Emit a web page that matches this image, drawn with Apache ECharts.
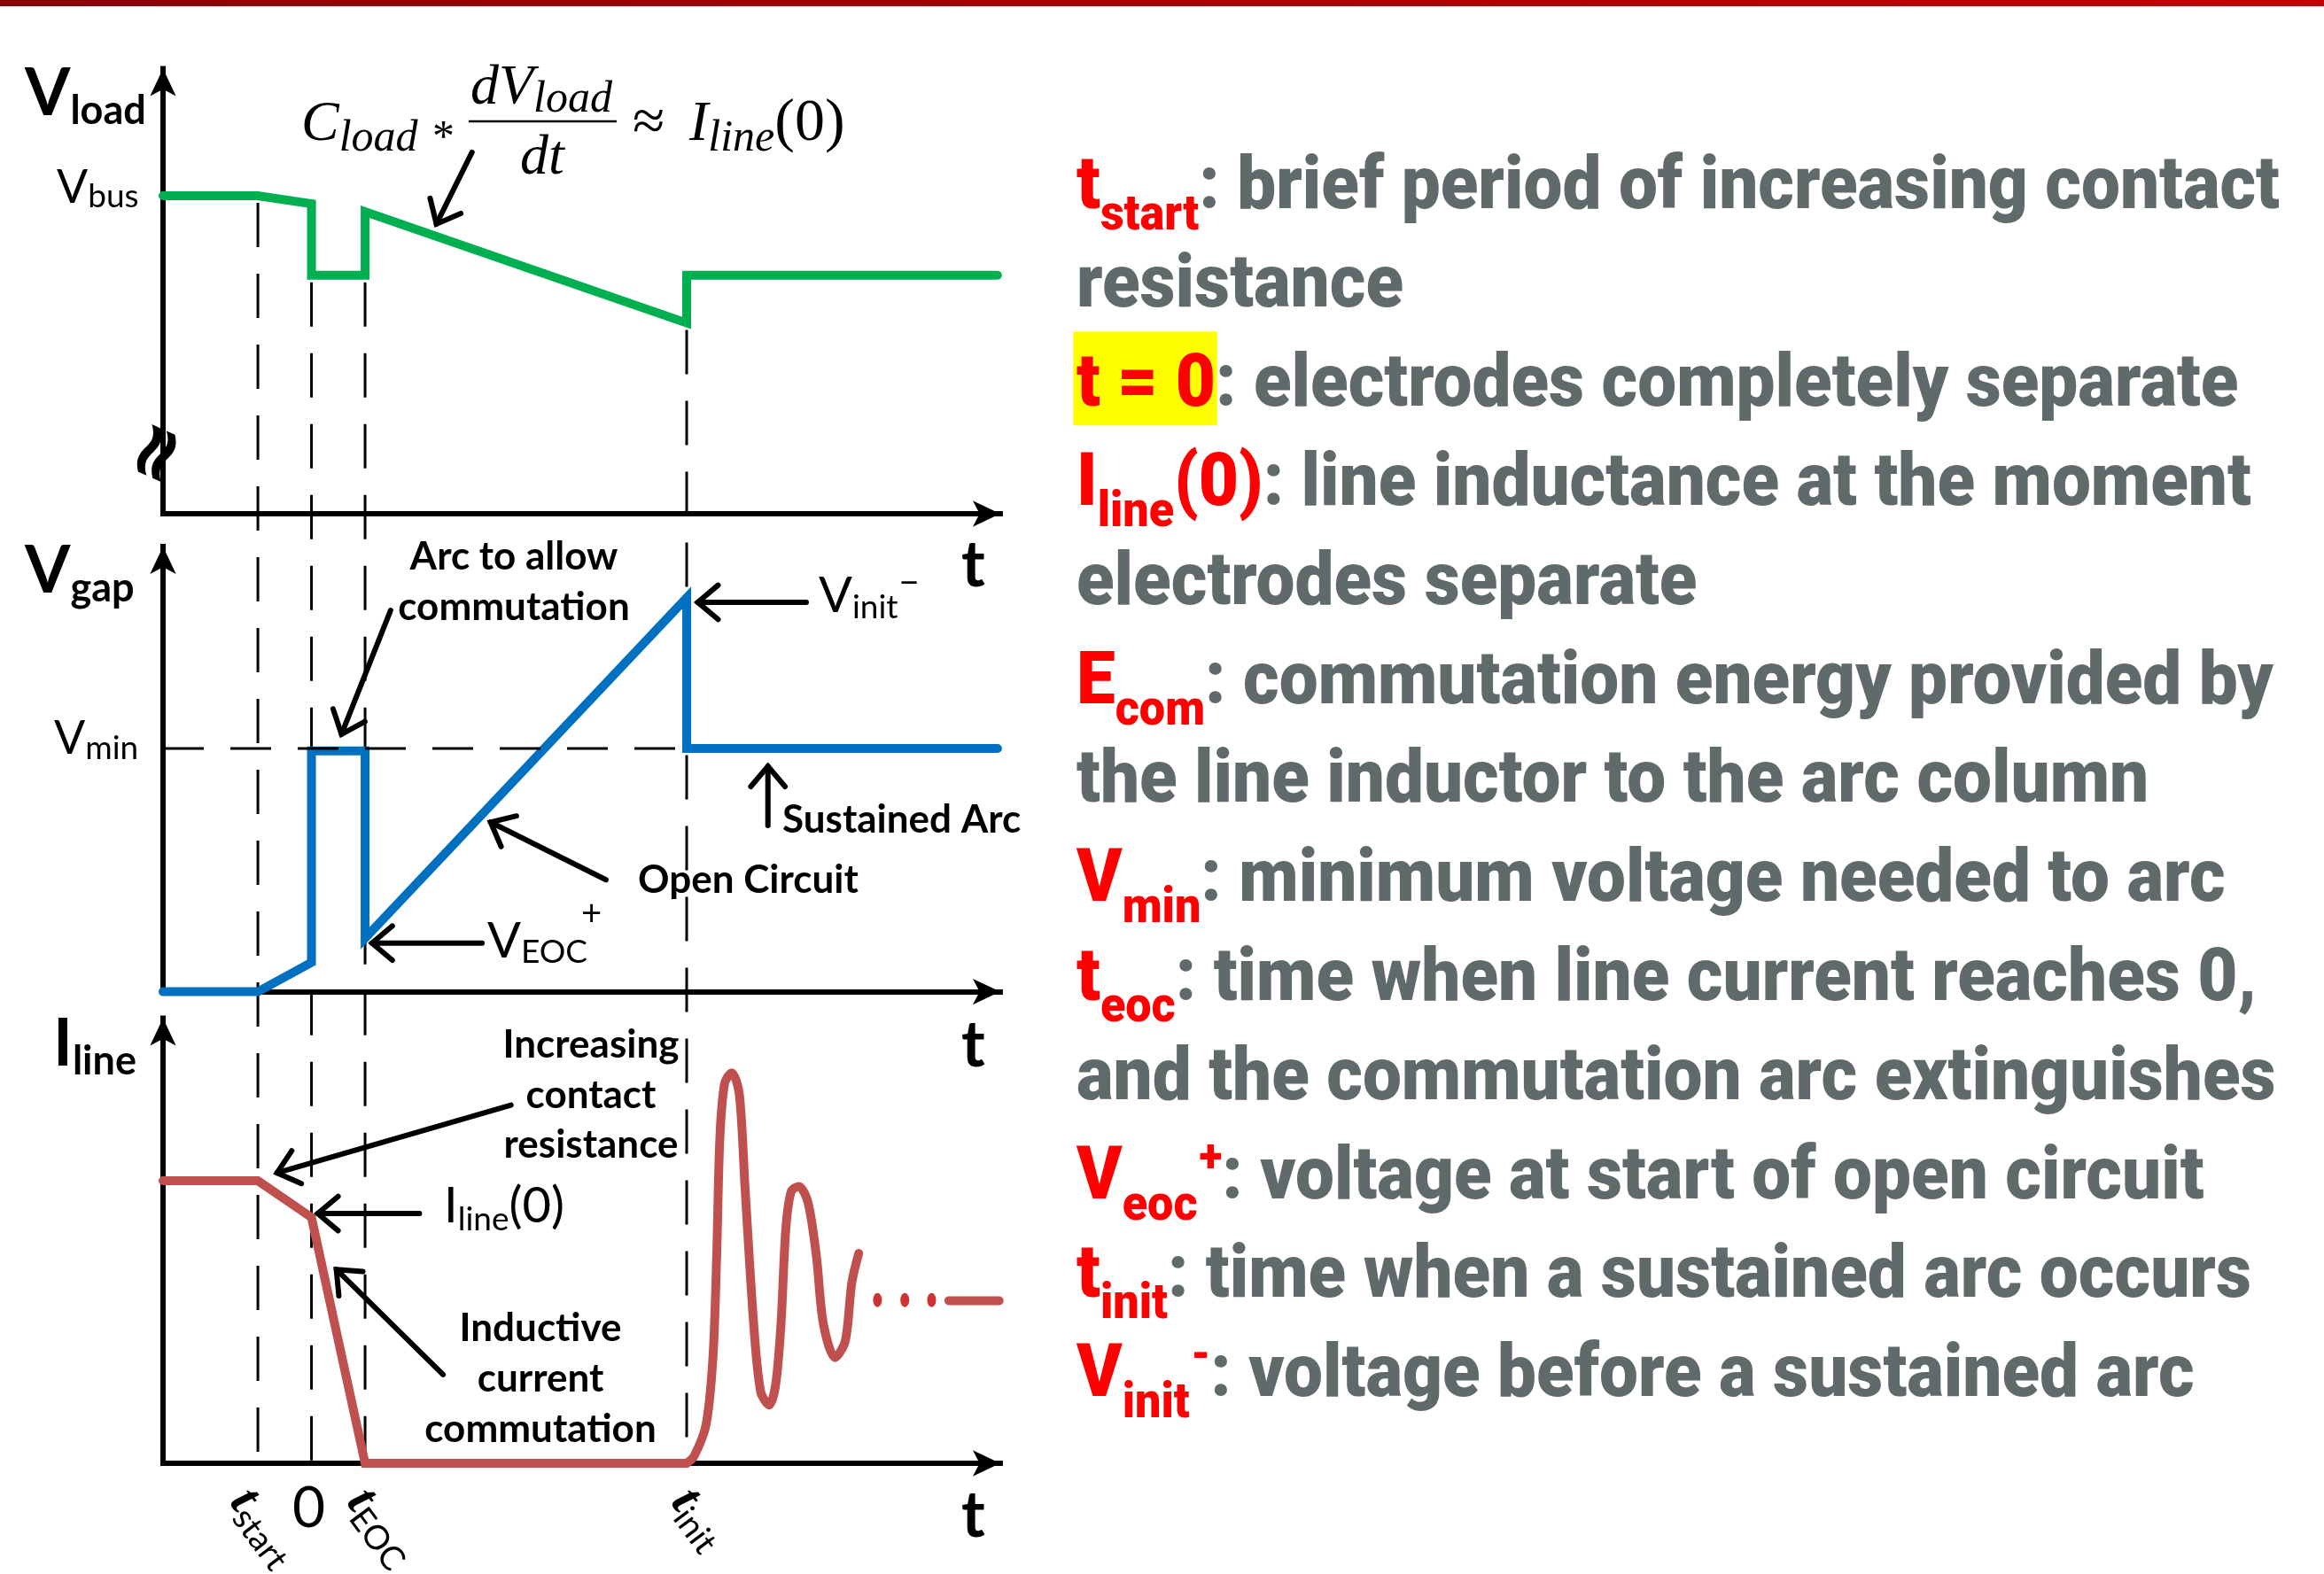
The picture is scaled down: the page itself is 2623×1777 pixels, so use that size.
<!DOCTYPE html>
<html>
<head>
<meta charset="utf-8">
<script src="https://cdn.jsdelivr.net/npm/echarts@6/dist/echarts.min.js"></script>
<style>
  html, body { margin: 0; padding: 0; background: #fff; }
  #chart { width: 2623px; height: 1777px; }
</style>
</head>
<body>
<div id="chart"></div>
<script>
// ---------- waveform data (time in units of the commutation interval, per-unit amplitudes) ----------
const tSpan = [-2.77, 12.85];
const tMarks = [-1, 0, 1, 7];                // t_start, 0, t_EOC, t_init
const tMarkTop = [1.0, 0.75, 0.75, 0.6];     // V_load value where each guide line starts
const yTop = [1.40, 1.83, 1.575];            // upper end of each panel's vertical axis

const vloadT = [-2.77, -1, 0, 0, 1, 1, 7, 7, 12.8];
const vloadV = [1.0, 1.0, 0.975, 0.75, 0.75, 0.95, 0.6, 0.75, 0.75];

const vgapT = [-2.77, -1, 0, 0, 1, 1, 7, 7, 12.8];
const vgapV = [0, 0, 0.12, 0.99, 0.99, 0.22, 1.62, 1.0, 1.0];
const vMin = 1.0;

const ilineT = [-2.77, -1, 0, 1, 7];
const ilineV = [1.0, 1.0, 0.87, 0, 0];
const ringT = [7, 7.14, 7.36, 7.49, 7.56, 7.62, 7.71, 7.84, 7.98, 8.09, 8.25, 8.38, 8.54, 8.66, 8.76, 8.85, 8.95, 9.09, 9.26, 9.42, 9.55, 9.77, 9.96, 10.08, 10.21];
const ringV = [0, 0.026, 0.135, 0.374, 0.734, 1.154, 1.346, 1.382, 1.31, 0.972, 0.494, 0.254, 0.206, 0.278, 0.494, 0.83, 0.962, 0.98, 0.926, 0.734, 0.494, 0.374, 0.434, 0.638, 0.743];
const dotT = [10.56, 11.07, 11.57];
const dotV = [0.578, 0.578, 0.578];
const settleT = [11.89, 12.83];
const settleV = [0.575, 0.575];

// event tick labels under the time axis (null subscript = plain "0")
const tickSubs = ['start', null, 'EOC', 'init'];

// ---------- glossary text ----------
const notes = [
  [['r', 't'], ['rs', 'start'], ['g', ': brief period of increasing contact']],
  [['g', 'resistance']],
  [['rh', 't = 0'], ['g', ': electrodes completely separate']],
  [['r', 'I'], ['rs', 'line'], ['r', '(0)'], ['g', ': line inductance at the moment']],
  [['g', 'electrodes separate']],
  [['r', 'E'], ['rs', 'com'], ['g', ': commutation energy provided by']],
  [['g', 'the line inductor to the arc column']],
  [['r', 'V'], ['rs', 'min'], ['g', ': minimum voltage needed to arc']],
  [['r', 't'], ['rs', 'eoc'], ['g', ': time when line current reaches 0,']],
  [['g', 'and the commutation arc extinguishes']],
  [['r', 'V'], ['rs', 'eoc'], ['rp', '+'], ['g', ': voltage at start of open circuit']],
  [['r', 't'], ['rs', 'init'], ['g', ': time when a sustained arc occurs']],
  [['r', 'V'], ['rs', 'init'], ['rp', '-'], ['g', ': voltage before a sustained arc']]
];

// ---------- chart ----------
const SANS = "Lato, 'Open Sans', sans-serif";
const MATH = "'Liberation Serif', 'DejaVu Serif', serif";
const NOTE = "Roboto, 'Liberation Sans', sans-serif";
const GREEN = '#00b050', BLUE = '#0070c0', RED = '#c0504d';

const chart = echarts.init(document.getElementById('chart'), null, { renderer: 'canvas', width: 2623, height: 1777 });
const pairs = (xs, ys) => xs.map((x, i) => [x, ys[i]]);

const grids = [
  { left: 184, width: 944.9, top: 77.4, height: 502.6 },
  { left: 184, width: 944.9, top: 617.1, height: 502.5 },
  { left: 184, width: 944.9, top: 1149.6, height: 502.4 }
].map(g => Object.assign({ outerBoundsMode: 'none', containLabel: false }, g));

const axisLine = {
  show: true, onZero: false, symbol: ['none', 'arrow'], symbolSize: [22, 31],
  lineStyle: { color: '#000', width: 6, cap: 'square' }
};
const bare = { axisTick: { show: false }, axisLabel: { show: false }, splitLine: { show: false } };

const lineSeries = (idx, data, color, extra) => Object.assign({
  type: 'line', xAxisIndex: idx, yAxisIndex: idx, data, symbol: 'none', showSymbol: false,
  clip: false, silent: true, z: 5,
  lineStyle: { color, width: 10, cap: 'round', join: 'miter' }
}, extra || {});

chart.setOption({
  animation: false,
  backgroundColor: '#fff',
  grid: grids,
  xAxis: [0, 1, 2].map(i => Object.assign({ type: 'value', gridIndex: i, min: tSpan[0], max: tSpan[1], axisLine }, bare)),
  yAxis: [0, 1, 2].map(i => Object.assign({ type: 'value', gridIndex: i, min: 0, max: yTop[i], axisLine }, bare)),
  series: [
    lineSeries(0, pairs(vloadT, vloadV), GREEN),
    lineSeries(1, pairs(vgapT, vgapV), BLUE),
    lineSeries(1, [[tSpan[0], vMin], [tMarks[3], vMin]], '#000', {
      z: 6, lineStyle: { color: '#000', width: 3, type: [46, 30] }
    }),
    lineSeries(2, pairs(ilineT, ilineV), RED),
    lineSeries(2, pairs(ringT, ringV), RED, { smooth: 0.3 }),
    {
      type: 'scatter', xAxisIndex: 2, yAxisIndex: 2, data: pairs(dotT, dotV), silent: true, z: 5,
      symbol: 'circle', symbolSize: [10, 16], itemStyle: { color: '#c00000' }
    },
    lineSeries(2, pairs(settleT, settleV), RED)
  ]
});

// ---------- annotation helpers ----------
const px = (g, x, y) => chart.convertToPixel({ gridIndex: g }, [x, y]);
const mctx = document.createElement('canvas').getContext('2d');
const cssFont = f => `${f.style || 'normal'} ${f.weight || 400} ${f.size}px ${f.family || SANS}`;
function midShift(font, size) {
  mctx.font = font;
  mctx.textBaseline = 'alphabetic';
  const a = mctx.measureText('Hg').fontBoundingBoxAscent;
  mctx.textBaseline = 'middle';
  const m = mctx.measureText('Hg').fontBoundingBoxAscent;
  mctx.textBaseline = 'alphabetic';
  const d = a - m;
  return (a == null || m == null || isNaN(d)) ? size * 0.3 : d;
}
function textW(t, font) { mctx.font = font; return mctx.measureText(t).width; }

// lays out a run of text pieces along one baseline (local origin = baseline start)
function run(pieces) {
  let x = 0;
  const children = [];
  pieces.forEach(p => {
    const font = cssFont(p.f);
    const w = textW(p.t, font);
    x += p.dx || 0;
    if (p.bg) {
      children.push({
        type: 'rect', z: 9, silent: true,
        shape: { x: x - p.bg[0], y: -p.bg[1], width: w + p.bg[0] + p.bg[2], height: p.bg[1] + p.bg[3] },
        style: { fill: p.bgColor }
      });
    }
    children.push({
      type: 'text', x, y: p.dy || 0, z: 10, silent: true,
      style: { text: p.t, x: 0, y: -midShift(font, p.f.size), font, fill: p.c || '#000', align: 'left', verticalAlign: 'middle' }
    });
    x += w;
  });
  return { children, width: x };
}
function place(pieces, x, y, o) {
  o = o || {};
  const r = run(pieces);
  const sx = o.scaleX || 1;
  let gx = x;
  if (o.align === 'center') gx = x - r.width * sx / 2;
  else if (o.align === 'right') gx = x - r.width * sx;
  return { type: 'group', x: gx, y, rotation: o.rotation || 0, scaleX: sx, scaleY: o.scaleY || 1, z: 10, children: r.children };
}
function arrow(g, tail, tip) {
  const a = px(g, tail[0], tail[1]);
  const b = px(g, tip[0], tip[1]);
  const ang = Math.atan2(b[1] - a[1], b[0] - a[0]);
  const L = 30, spread = 0.7;
  const p1 = [b[0] - L * Math.cos(ang - spread), b[1] - L * Math.sin(ang - spread)];
  const p2 = [b[0] - L * Math.cos(ang + spread), b[1] - L * Math.sin(ang + spread)];
  const st = { stroke: '#000', lineWidth: 6, lineCap: 'round', lineJoin: 'miter', fill: null };
  return [
    { type: 'line', z: 8, silent: true, shape: { x1: a[0], y1: a[1], x2: b[0], y2: b[1] }, style: st },
    { type: 'polyline', z: 8, silent: true, shape: { points: [p1, b, p2] }, style: st }
  ];
}

const F = {
  axBig: { size: 74, weight: 700 }, axSub: { size: 45, weight: 700 },
  lvl: { size: 52, weight: 400 }, lvlSub: { size: 37, weight: 400 },
  note: { size: 44, weight: 700 },
  sym: { size: 56, weight: 400 }, symSub: { size: 37, weight: 400 }, symSup: { size: 40, weight: 400 },
  tLab: { size: 72, weight: 700 },
  mathBig: { size: 64, style: 'italic', family: MATH }, mathSub: { size: 50, style: 'italic', family: MATH },
  mathUp: { size: 68, family: MATH },
  tickT: { size: 58, style: 'italic', weight: 700, family: MATH }, tickSub: { size: 38, weight: 400 }
};
const P = (t, f, extra) => Object.assign({ t, f }, extra || {});

const G = [];

// title band
G.push({
  type: 'rect', z: 1, silent: true, shape: { x: 0, y: 0, width: 2623, height: 7 },
  style: { fill: new echarts.graphic.LinearGradient(0, 0, 1, 0, [{ offset: 0, color: '#8c0000' }, { offset: 1, color: '#c40000' }]) }
});

// event guide lines running through all three panels
tMarks.forEach((t, i) => {
  const a = px(0, t, tMarkTop[i]);
  const b = px(2, t, 0);
  G.push({
    type: 'line', z: 1, silent: true,
    shape: { x1: a[0], y1: a[1] + 8, x2: b[0], y2: b[1] },
    style: { stroke: '#000', lineWidth: 3, lineDash: [50, 30] }
  });
});

// axis break mark on V_load
const brk = px(0, tSpan[0], 0.185);
G.push({
  type: 'text', x: brk[0] - 3, y: brk[1], rotation: 1.15, z: 10, silent: true,
  style: { text: '\u2248', x: 0, y: 0, font: "700 88px 'DejaVu Sans', sans-serif", fill: '#000', align: 'center', verticalAlign: 'middle' }
});

// panel axis names
G.push(place([P('V', F.axBig), P('load', F.axSub, { dy: 10 })], 28, 130));
G.push(place([P('V', F.lvl), P('bus', F.lvlSub, { dy: 5 })], 64, 229));
G.push(place([P('V', F.axBig), P('gap', F.axSub, { dy: 10 })], 28, 669));
G.push(place([P('V', F.lvl), P('min', F.lvlSub, { dy: 6 })], 61, 851));
G.push(place([P('I', F.axBig), P('line', F.axSub, { dy: 10 })], 60, 1203));
[662, 1204, 1735].forEach(y => G.push(place([P('t', F.tLab)], 1085, y)));

// C_load * dV_load/dt ≈ I_line(0)
G.push(place([P('C', F.mathBig), P('load', F.mathSub, { dy: 12 })], 340, 158));
G.push(place([P('*', { size: 50, family: MATH })], 488, 170));
G.push(place([P('dV', F.mathBig), P('load', F.mathSub, { dy: 9 })], 531, 117));
G.push({ type: 'line', z: 10, silent: true, shape: { x1: 529, y1: 137, x2: 696, y2: 137 }, style: { stroke: '#000', lineWidth: 2.5 } });
G.push(place([P('dt', F.mathBig)], 587, 196));
G.push(place([P('\u2248', { size: 66, family: MATH })], 714, 158));
G.push(place([P('I', F.mathBig), P('line', F.mathSub, { dy: 12 }), P('(0)', F.mathUp)], 778, 158));

// V_gap callouts
G.push(place([P('Arc to allow', F.note)], 580, 643, { align: 'center' }));
G.push(place([P('commutation', F.note)], 580, 700, { align: 'center' }));
G.push(place([P('V', F.sym), P('init', F.symSub, { dy: 7 }), P('\u2212', F.symSup, { dy: -20, dx: 1 })], 924, 691));
G.push(place([P('Sustained Arc', F.note)], 883, 940));
G.push(place([P('Open Circuit', F.note)], 720, 1008));
G.push(place([P('V', F.sym), P('EOC', F.symSub, { dy: 6 }), P('+', F.symSup, { dy: -36, dx: -7 })], 550, 1081));

// I_line callouts
[['Increasing', 1194], ['contact', 1251], ['resistance', 1307]].forEach(([s, y]) => G.push(place([P(s, F.note)], 667, y, { align: 'center' })));
G.push(place([P('I', F.sym), P('line', F.symSub, { dy: 9 }), P('(0)', F.sym)], 501, 1380));
[['Inductive', 1514], ['current', 1571], ['commutation', 1628]].forEach(([s, y]) => G.push(place([P(s, F.note)], 610, y, { align: 'center' })));

// callout arrows (tail -> tip, in panel data units)
const callouts = [
  [0, [2.995, 1.137], [2.331, 0.911]],
  [1, [1.476, 1.568], [0.560, 1.059]],
  [1, [5.494, 0.46], [3.342, 0.697]],
  [1, [3.182, 0.20], [1.129, 0.20]],
  [1, [9.231, 1.601], [7.207, 1.601]],
  [1, [8.516, 0.683], [8.516, 0.927]],
  [2, [3.722, 1.268], [-0.643, 1.028]],
  [2, [2.015, 0.884], [0.117, 0.884]],
  [2, [2.455, 0.314], [0.464, 0.686]]
];
callouts.forEach(([g, a, b]) => arrow(g, a, b).forEach(e => G.push(e)));

// event tick labels (rotated, reading down-right)
const tickShift = [-33, 0, -22, -19];
tMarks.forEach((t, i) => {
  const p = px(2, t, 0);
  if (tickSubs[i] === null) {
    G.push(place([P('0', { size: 64, weight: 400 })], p[0] - 3, 1724, { align: 'center' }));
  } else {
    G.push(place([P('t', F.tickT), P(tickSubs[i], F.tickSub, { dy: 9 })], p[0] + tickShift[i], 1696, { rotation: -0.93 }));
  }
});

// glossary column
const NS = 84;
const NF = {
  g: { size: NS, weight: 900, family: NOTE },
  r: { size: NS, weight: 900, family: NOTE },
  rs: { size: 56, weight: 900, family: NOTE },
  rp: { size: 52, weight: 900, family: NOTE }
};
function notePieces(line) {
  return line.map(([k, t]) => {
    if (k === 'g') return P(t, NF.g, { c: '#606a6a' });
    if (k === 'r') return P(t, NF.r, { c: '#ff0000' });
    if (k === 'rh') return P(t, NF.r, { c: '#ff0000', bg: [4, 84, 2, 22], bgColor: '#ffff00' });
    if (k === 'rs') return P(t, NF.rs, { c: '#ff0000', dy: 24 });
    return P(t, NF.rp, { c: '#ff0000', dy: -30, dx: 2 });
  });
}
const noteScale = 1358 / run(notePieces(notes[0])).width;
notes.forEach((line, k) => G.push(place(notePieces(line), 1215, 234.6 + 111.8 * k, { scaleX: noteScale })));

chart.setOption({ graphic: G });
</script>
</body>
</html>
